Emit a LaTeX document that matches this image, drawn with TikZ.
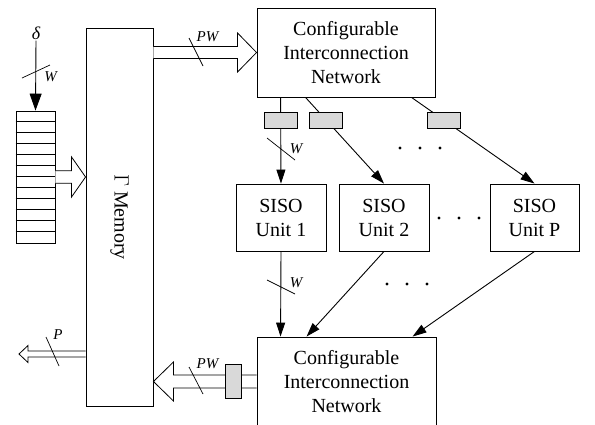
\documentclass[tikz,border=0pt]{standalone}
\usepackage{fontspec}
\setmainfont{Liberation Serif}
\usetikzlibrary{arrows.meta,calc}
\tikzset{
  block/.style={draw, line width=0.9pt, align=center, inner sep=0pt,
    font=\fontsize{20}{24}\selectfont},
  gbox/.style={draw, line width=0.9pt, fill=gray!30, inner sep=0pt},
  arr/.style={line width=0.9pt, -{Triangle[length=14pt,width=9pt]}},
  buslabel/.style={inner sep=0pt, font=\fontsize{15}{15}\selectfont\itshape},
  slash/.style={line width=0.7pt}
}
\newcommand{\fatarrow}[5]{%
  \draw[fill=white, line width=0.8pt]
    ($(#1)+(0,-#3)$) -- ($(#2)+(#5,-#3)$) -- ($(#2)+(#5,-#4)$) -- (#2)
    -- ($(#2)+(#5,#4)$) -- ($(#2)+(#5,#3)$) -- ($(#1)+(0,#3)$);}
\begin{document}
\begin{tikzpicture}[x=1pt,y=-1pt]
  \useasboundingbox (0,0) rectangle (595,424);
  % blocks
  \node[block, minimum width=67pt, minimum height=378pt] (mem) at (119.5,217)
    {\rotatebox{-90}{$\Gamma$ Memory}};
  \node[block, minimum width=178pt, minimum height=89pt] (net1) at (346,52.5)
    {Configurable\\Interconnection\\Network};
  \node[block, minimum width=179pt, minimum height=89pt] (net2) at (346.5,381.5)
    {Configurable\\Interconnection\\Network};
  \node[block, minimum width=90pt, minimum height=67pt] (siso1) at (281,217.5) {SISO\\Unit 1};
  \node[block, minimum width=90pt, minimum height=67pt] (siso2) at (384,217.5) {SISO\\Unit 2};
  \node[block, minimum width=89pt, minimum height=67pt] (sisoP) at (534.5,217.5) {SISO\\Unit P};
  \node[draw, line width=0.9pt, minimum width=39pt, minimum height=132pt, inner sep=0pt]
    (stack) at (35.5,177) {};
  \foreach \i in {1,...,11}
    \draw[line width=0.8pt] (stack.north west) ++(0,\i*11) -- ++(39,0);
  \node[inner sep=1pt, font=\fontsize{18}{18}\selectfont\itshape] (delta) at (36,33) {δ};
  \coordinate (pout) at (19,354);
  % wide buses
  \fatarrow{mem.east|-net1.west}{net1.west}{6}{19.5}{-19}
  \fatarrow{stack.east}{mem.west|-stack.east}{6.3}{20}{-14}
  \fatarrow{net2.west}{mem.east|-net2.west}{6.5}{19.5}{20}
  \fatarrow{mem.west|-pout}{pout}{3}{8.5}{9}
  \node[gbox, minimum width=16pt, minimum height=34pt] (reg) at ($(net2.west)+(-23,0)$) {};
  % connections
  \draw[arr, -{Triangle[length=17pt,width=12pt]}] (delta.south) -- (stack.north);
  \draw[arr] ($(net1.south west)+(24,0)$) -- node[gbox, pos=0.264, minimum width=33pt, minimum height=16pt] (g1) {} (siso1.north);
  \draw[arr] ($(net1.south west)+(49,0)$) -- node[gbox, pos=0.264, minimum width=33pt, minimum height=16pt] (g2) {} (siso2.north);
  \draw[arr] ($(net1.south west)+(155,0)$) -- node[gbox, pos=0.264, minimum width=33pt, minimum height=16pt] (g3) {} (sisoP.north);
  \draw[arr] (siso1.south) -- ($(net2.north west)+(24,0)$);
  \draw[arr] (siso2.south) -- ($(net2.north west)+(50,0)$);
  \draw[arr] (sisoP.south) -- ($(net2.north west)+(156,0)$);
  % bus widths
  \draw[slash] (22,78) -- (50,65);
  \draw[slash] (267,138) -- (295,160);
  \draw[slash] (267,280) -- (295,294);
  \draw[slash] (189,38) -- (203,66);
  \draw[slash] (46,337) -- (59,366);
  \draw[slash] (189,367) -- (203,394);
  \node[buslabel] (w1) at (50.5,77) {W};
  \node[buslabel] (w2) at (296,149) {W};
  \node[buslabel] (w3) at (296,283) {W};
  \node[buslabel] (pw1) at (207.5,37) {PW};
  \node[buslabel] (p1) at (58,334.5) {P};
  \node[buslabel] (pw2) at (207.5,364) {PW};
  % dots
  \coordinate (d1) at (420,148);
  \coordinate (d2) at (459,218);
  \coordinate (d3) at (407,284);
  \foreach \d in {d1,d2,d3}
    \foreach \dx in {-20,0,20}
      \fill ($(\d)+(\dx,0)$) circle (1.6);
\end{tikzpicture}
\end{document}
